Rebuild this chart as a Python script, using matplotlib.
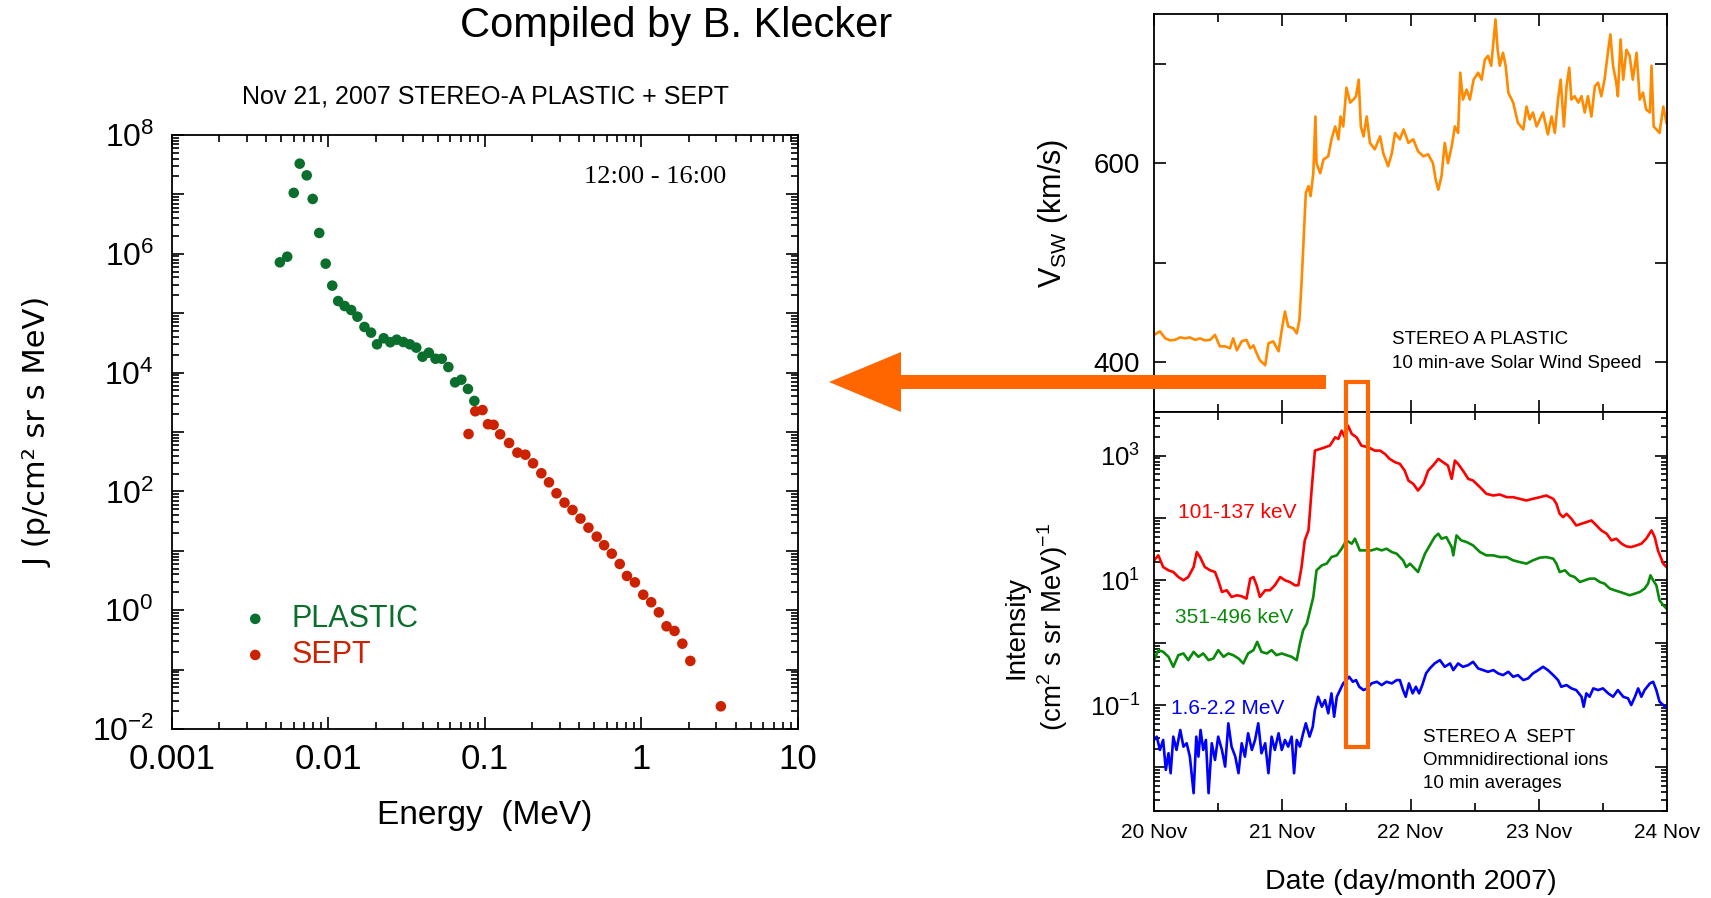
import numpy as np
import matplotlib
matplotlib.use('Agg')
import matplotlib.pyplot as plt
from matplotlib.ticker import FixedLocator, LogLocator, MultipleLocator, FuncFormatter, NullFormatter
from matplotlib.patches import Rectangle, FancyArrow
from matplotlib.transforms import blended_transform_factory

# ---- left panel: energy spectrum 21 Nov 2007, 12:00-16:00 ----
energy_plastic = [0.00489, 0.00545, 0.0060, 0.00655, 0.00726, 0.00793, 0.00873, 0.0096,
                  0.01057, 0.01153, 0.01268, 0.01396, 0.01531, 0.01698, 0.01871, 0.02042,
                  0.02254, 0.02483, 0.02729, 0.03006, 0.03311, 0.03639, 0.03990, 0.04375,
                  0.04831, 0.05297, 0.05834, 0.06442, 0.07063, 0.07780, 0.08551]
flux_plastic = [7.18e5, 8.93e5, 1.06e7, 3.29e7, 2.09e7, 8.38e6, 2.24e6, 6.82e5,
                2.91e5, 1.60e5, 1.32e5, 1.13e5, 8.73e4, 5.86e4, 4.70e4, 2.99e4,
                3.78e4, 3.24e4, 3.58e4, 3.27e4, 2.99e4, 2.63e4, 1.85e4, 2.16e4,
                1.71e4, 1.71e4, 1.24e4, 6.85e3, 7.59e3, 5.30e3, 3.33e3]
energy_sept = [0.0785, 0.0867, 0.0964, 0.1045, 0.1135, 0.1250, 0.1426, 0.1611, 0.1811,
               0.2028, 0.2291, 0.2564, 0.2864, 0.3221, 0.3622, 0.4074, 0.4581, 0.5176,
               0.5768, 0.6457, 0.7261, 0.8072, 0.9078, 1.026, 1.153, 1.291, 1.445, 1.626,
               1.824, 2.051, 3.214]
flux_sept = [925, 2230, 2340, 1350, 1320, 914, 653, 449, 415, 297, 202, 142, 92.9, 64.6,
             48.6, 34.8, 24.5, 17.3, 12.4, 8.95, 6.0, 3.77, 2.94, 1.82, 1.36, 0.92, 0.536,
             0.447, 0.273, 0.140, 0.0241]
x_ticklabels = ['0.001', '0.01', '0.1', '1', '10']

# ---- right panels: hours since 20 Nov 2007 00:00 ----
vsw_hours = [0.0, 1.1, 2.1, 3.0, 3.9, 4.9, 5.8, 6.7, 7.7, 8.6, 9.5, 10.5, 11.4, 12.3, 13.3,
             14.2, 14.8, 15.5, 16.4, 17.3, 18.0, 18.6, 19.2, 19.8, 20.8, 21.4, 22.3, 23.3,
             23.9, 24.5, 25.1, 26.1, 26.7, 27.2, 27.6, 28.1, 28.4, 28.9, 29.3, 29.8, 30.2,
             30.4, 31.1, 31.7, 32.6, 33.2, 33.9, 34.5, 34.9, 35.4, 36.0, 36.7, 37.3, 37.8,
             38.3, 38.7, 39.2, 39.8, 40.4, 41.3, 42.3, 42.9, 43.8, 44.5, 45.1, 46.0, 46.7,
             47.6, 48.5, 49.4, 50.4, 51.3, 52.2, 52.7, 53.2, 53.8, 54.4, 55.0, 55.7, 56.3,
             56.9, 57.3, 57.8, 58.5, 59.1, 59.8, 60.65, 61.3, 61.9, 62.5, 63.1, 63.9, 64.3,
             64.7, 65.3, 65.8, 66.3, 67.2, 68.1, 69.1, 69.7, 70.3, 70.9, 71.6, 72.2, 72.8,
             73.7, 74.4, 75.0, 75.6, 76.1, 76.7, 77.2, 77.7, 78.1, 78.7, 79.4, 80.0, 80.6,
             81.2, 81.85, 82.5, 83.1, 83.7, 84.3, 85.0, 85.4, 85.9, 86.5, 86.8, 87.3, 87.8,
             88.4, 89.0, 89.6, 90.3, 90.9, 91.5, 92.1, 92.8, 93.1, 93.5, 94.0, 94.6, 95.3,
             95.9]
vsw = [427.5, 431, 424, 422, 422.5, 425, 424, 425, 422.5, 424, 422, 422.5, 427.5, 416, 416,
       414, 424, 412, 421, 422.5, 414, 417, 409, 402, 397, 419, 421, 411,
       432.5, 451, 436, 434, 429, 442.5, 479.5, 536.6, 570, 577, 567, 590, 647,
       600, 590, 603.7, 607, 624, 637, 624, 647, 637, 676, 661, 664, 667.4,
       684, 637, 627, 647, 620.5, 614, 627, 610, 597, 610, 630.5, 624, 634,
       620.5, 624, 612, 607, 609, 600, 583.6, 573.5, 587, 620.5, 600, 617, 637,
       630.5, 691, 664, 674, 664, 684, 691, 684, 704, 708, 698, 744.6, 714,
       698, 711, 698, 671, 661, 640.6, 634, 657, 644, 651, 637, 644, 651,
       629, 647, 630.5, 664, 684, 637, 677.5, 696, 664, 667.4, 661, 667.4, 651,
       667.4, 647, 677.5, 681, 667.4, 684, 714, 729.5, 698, 681, 667.4, 724.5, 684,
       714, 708, 684, 711, 664, 671, 654, 651, 698, 637, 634, 630.5, 657,
       640.6]

low_hours = [0.0, 0.8, 1.7, 2.7, 3.6, 4.55, 5.5, 6.4, 7.4, 8.0, 8.6, 9.5, 10.5, 11.4, 12.0,
             12.7, 13.6, 14.5, 15.5, 16.4, 17.3, 18.0, 18.6, 19.2, 19.8, 20.8, 21.7, 22.6,
             23.6, 24.5, 25.4, 26.4, 27.0, 27.6, 28.2, 28.9, 29.5, 30.1, 31.1, 32.0, 32.9,
             33.9, 34.5, 35.1, 35.7, 36.3, 37.0, 37.9, 38.8, 40.1, 41.3, 42.3, 43.2, 44.1,
             45.1, 46.0, 46.9, 47.6, 48.5, 49.4, 50.4, 51.3, 52.2, 53.2, 54.1, 55.0, 55.7,
             56.3, 56.9, 57.8, 58.8, 59.7, 61.0, 62.2, 63.5, 64.7, 66.0, 67.2, 68.4, 69.7,
             70.9, 72.2, 73.4, 74.7, 75.3, 75.9, 76.55, 77.2, 78.1, 79.0, 80.0, 80.9, 81.85,
             82.8, 83.7, 84.7, 85.6, 86.5, 87.5, 88.4, 89.3, 90.3, 91.2, 92.1, 93.1, 93.7,
             94.3, 95.3, 95.9]
log_low = [1.32, 1.40, 1.213, 1.16, 1.133, 1.053, 1.0, 1.053, 1.213, 1.453, 1.373, 1.213, 1.16,
           1.133, 1.0, 0.813, 0.84, 0.733, 0.76, 0.744, 0.707, 1.027, 1.053, 0.92, 0.733, 0.84,
           0.84, 0.92, 1.053, 1.0, 0.973, 0.92, 0.92, 1.213, 1.64, 1.8, 2.467, 3.08, 3.107,
           3.133, 3.16, 3.293, 3.267, 3.4, 3.293, 3.48, 3.347, 3.293, 3.16, 3.133, 3.08, 3.08,
           3.027, 2.947, 2.893, 2.867, 2.76, 2.6, 2.547, 2.44, 2.547, 2.76, 2.84, 2.947, 2.893,
           2.84, 2.627, 2.92, 2.867, 2.76, 2.627, 2.6, 2.493, 2.387, 2.36, 2.376, 2.333, 2.333,
           2.307, 2.28, 2.307, 2.333, 2.36, 2.307, 2.227, 2.067, 2.013, 2.067, 1.987, 1.88,
           1.907, 1.933, 1.96, 1.88, 1.8, 1.747, 1.64, 1.667, 1.587, 1.544, 1.533, 1.56, 1.587,
           1.667, 1.8, 1.693, 1.48, 1.267, 1.213]

mid_hours = [0.0, 0.8, 1.7, 2.7, 3.6, 4.55, 5.5, 6.4, 7.4, 8.3, 9.2, 10.2, 11.1, 12.0, 13.0,
             13.9, 14.8, 15.8, 16.7, 17.6, 18.6, 19.3, 20.1, 21.1, 22.0, 22.9, 23.9, 24.8,
             25.75, 26.7, 27.3, 27.9, 28.6, 29.2, 29.8, 30.4, 31.4, 32.3, 33.2, 34.2, 35.1,
             36.0, 37.0, 37.6, 38.5, 39.8, 40.7, 41.7, 42.6, 43.5, 44.5, 45.4, 46.6, 47.2,
             47.9, 48.8, 49.4, 50.1, 50.7, 51.6, 52.5, 53.2, 53.8, 54.7, 55.7, 56.0, 56.6,
             57.5, 58.5, 59.7, 61.0, 62.2, 63.5, 64.7, 66.0, 67.2, 68.4, 69.7, 70.9, 72.2,
             73.4, 74.7, 75.3, 75.9, 76.9, 77.8, 78.7, 79.7, 80.6, 81.5, 82.5, 83.4, 84.3,
             85.3, 86.2, 87.2, 88.1, 89.0, 90.0, 90.9, 91.8, 92.45, 92.9, 93.4, 94.0, 94.6,
             95.3, 95.9]
log_mid = [-0.28, -0.12, -0.147, -0.227, -0.387, -0.2, -0.173, -0.28, -0.147, -0.227, -0.173,
           -0.28, -0.253, -0.12, -0.227, -0.173, -0.2, -0.253, -0.333, -0.173, -0.12, 0.013,
           -0.147, -0.173, -0.12, -0.2, -0.173, -0.2, -0.227, -0.28, -0.013, 0.2, 0.307, 0.52,
           0.733, 1.16, 1.24, 1.267, 1.373, 1.4, 1.507, 1.64, 1.587, 1.667, 1.48, 1.48, 1.48,
           1.507, 1.48, 1.507, 1.453, 1.427, 1.32, 1.213, 1.267, 1.187, 1.133, 1.293, 1.427,
           1.56, 1.693, 1.747, 1.667, 1.693, 1.533, 1.4, 1.72, 1.64, 1.613, 1.56, 1.453, 1.4,
           1.4, 1.373, 1.373, 1.32, 1.293, 1.267, 1.32, 1.363, 1.373, 1.347, 1.267, 1.133,
           1.16, 1.08, 1.053, 0.973, 1.0, 1.027, 1.027, 0.973, 0.947, 0.867, 0.84, 0.813,
           0.787, 0.76, 0.787, 0.813, 0.867, 0.947, 1.08, 1.0, 0.92, 0.68, 0.6, 0.547]

high_hours = [0.0, 0.5, 1.1, 1.7, 2.2, 2.7, 3.1, 3.6, 4.2, 4.9, 5.5, 6.1, 6.7, 7.4, 7.9, 8.3,
              8.7, 9.2, 9.7, 10.2, 10.8, 11.4, 12.0, 12.7, 13.3, 13.9, 14.5, 15.2, 15.8, 16.4,
              17.0, 17.6, 18.3, 18.9, 19.5, 20.1, 20.8, 21.4, 22.0, 22.6, 23.3, 23.9, 24.5,
              25.1, 25.75, 26.2, 26.7, 27.3, 27.9, 28.4, 29.1, 29.7, 30.1, 30.7, 31.4, 32.0,
              32.6, 33.2, 33.7, 34.2, 34.8, 35.4, 36.0, 36.5, 37.2, 37.8, 38.4, 39.2, 39.9,
              40.7, 41.7, 42.6, 43.5, 44.5, 45.4, 46.0, 46.6, 47.1, 47.7, 48.4, 49.0, 49.6,
              50.2, 50.9, 51.6, 52.5, 53.5, 54.4, 55.4, 56.0, 56.9, 57.8, 58.8, 59.7, 60.65,
              61.6, 62.5, 63.5, 64.4, 65.3, 66.3, 67.2, 68.1, 69.1, 70.0, 70.9, 71.9, 72.8,
              73.7, 74.7, 75.6, 76.2, 77.2, 78.1, 79.0, 80.0, 80.4, 80.9, 81.5, 82.2, 83.1,
              84.0, 85.0, 85.9, 86.8, 87.8, 88.7, 89.3, 90.0, 90.6, 91.2, 91.8, 92.8, 93.4,
              94.0, 94.6, 95.3, 95.9]
log_high = [-1.56, -1.507, -1.72, -1.56, -2.04, -1.773, -2.093, -1.507, -1.72, -1.4, -1.667,
            -1.613, -1.827, -2.413, -1.507, -1.827, -1.4, -1.72, -1.56, -2.413, -1.613, -1.88,
            -1.507, -1.72, -1.987, -1.293, -1.667, -1.827, -2.093, -1.613, -1.827, -1.453,
            -1.72, -1.56, -1.293, -1.773, -1.613, -2.093, -1.507, -1.72, -1.453, -1.72, -1.56,
            -1.667, -1.507, -2.093, -1.56, -1.667, -1.453, -1.293, -1.507, -1.347, -1.08,
            -0.867, -1.027, -0.92, -1.133, -0.813, -1.187, -0.867, -0.76, -0.653, -0.6, -0.547,
            -0.627, -0.6, -0.707, -0.76, -0.733, -0.653, -0.627, -0.68, -0.627, -0.653, -0.6,
            -0.6, -0.76, -0.867, -0.653, -0.813, -0.707, -0.813, -0.68, -0.493, -0.413, -0.333,
            -0.28, -0.387, -0.333, -0.44, -0.333, -0.387, -0.36, -0.307, -0.413, -0.44, -0.467,
            -0.44, -0.493, -0.52, -0.467, -0.547, -0.52, -0.6, -0.573, -0.493, -0.44, -0.387,
            -0.44, -0.52, -0.6, -0.707, -0.68, -0.733, -0.76, -0.867, -1.027, -0.813, -0.867,
            -0.733, -0.76, -0.733, -0.813, -0.867, -0.76, -0.867, -0.893, -1.0, -0.867, -0.733,
            -0.867, -0.76, -0.653, -0.627, -0.76, -0.947, -1.0, -1.053]

channel_names = ['101-137 keV', '351-496 keV', '1.6-2.2 MeV']
day_names = ['20 Nov', '21 Nov', '22 Nov', '23 Nov', '24 Nov']
window_start, window_end = 36, 40   # 21 Nov 12:00 - 16:00

GREEN = '#0a6e2c'
DKRED = '#cc2200'
ORANGE_SW = '#ff8a00'
ORANGE_MARK = '#ff6600'
ARIAL = ['Liberation Sans', 'DejaVu Sans']

plt.rcParams['font.family'] = ARIAL

fig = plt.figure(figsize=(17.11, 8.98), dpi=100)

# ================= left: spectrum =================
ax = fig.add_axes([0.1005, 0.1882, 0.3659, 0.6615])
ax.set_xscale('log')
ax.set_yscale('log')
ax.scatter(energy_plastic, flux_plastic, s=58, color=GREEN, edgecolors='none', label='PLASTIC', zorder=3)
ax.scatter(energy_sept, flux_sept, s=58, color=DKRED, edgecolors='none', label='SEPT', zorder=3)
ax.set_xlim(1e-3, 10)
ax.set_ylim(1e-2, 1e8)


def left_xfmt(v, pos):
    i = int(round(np.log10(v))) + 3
    return x_ticklabels[i] if 0 <= i < len(x_ticklabels) else ''


def log_fmt(parity):
    def f(v, pos):
        e = int(round(np.log10(v)))
        return r'$\mathregular{10^{%d}}$' % e if e % 2 == parity else ''
    return FuncFormatter(f)


def day_fmt(v, pos):
    i = int(round(v / 24))
    return day_names[i] if 0 <= i < len(day_names) else ''


ax.xaxis.set_major_locator(FixedLocator([1e-3, 1e-2, 1e-1, 1, 10]))
ax.xaxis.set_major_formatter(FuncFormatter(left_xfmt))
ax.xaxis.set_minor_locator(LogLocator(base=10, subs=np.arange(2, 10), numticks=30))
ax.xaxis.set_minor_formatter(NullFormatter())
ax.yaxis.set_major_locator(FixedLocator(10.0 ** np.arange(-2, 9)))
ax.yaxis.set_major_formatter(log_fmt(0))
ax.yaxis.set_minor_locator(LogLocator(base=10, subs=np.arange(2, 10), numticks=30))
ax.yaxis.set_minor_formatter(NullFormatter())
ax.tick_params(which='both', direction='in', top=True, right=True, width=1.2)
ax.tick_params(which='major', length=8.5)
ax.tick_params(which='minor', length=5)
ax.tick_params(axis='x', which='major', labelsize=25, pad=10)
ax.tick_params(axis='y', which='major', labelsize=23, pad=13)
for s in ax.spines.values():
    s.set_linewidth(1.3)

ax.set_xlabel('Energy  (MeV)', fontsize=24, va='center')
ax.xaxis.set_label_coords(0.5, -0.146)
ax.set_ylabel('J (p/cm² sr s MeV)', fontsize=22, family=['DejaVu Sans'], va='center')
ax.yaxis.set_label_coords(-0.214, 0.5)
ax.text(0.772, 0.929, '12:00 - 16:00', transform=ax.transAxes, ha='center', va='center',
        fontsize=19, family=['Liberation Serif', 'DejaVu Serif'])

leg = ax.legend(loc='center left', bbox_to_anchor=(0.094, 0.155), frameon=False,
                handlelength=0.8, handletextpad=0.8, labelspacing=0.2, borderaxespad=0,
                prop={'size': 22}, scatterpoints=1)
for t, c in zip(leg.get_texts(), [GREEN, DKRED]):
    t.set_color(c)

fig.text(0.2835, 0.893, 'Nov 21, 2007 STEREO-A PLASTIC + SEPT', ha='center', va='center', fontsize=18)
fig.text(0.395, 0.971, 'Compiled by B. Klecker', ha='center', va='center', fontsize=30)

# ================= right: solar wind and SEPT =================
ax1 = fig.add_axes([0.6745, 0.5412, 0.2998, 0.4432])
ax2 = fig.add_axes([0.6745, 0.0969, 0.2998, 0.4443], sharex=ax1)

ax1.plot(vsw_hours, vsw, color=ORANGE_SW, lw=1.9)
ax1.set_ylim(350, 750)
ax1.yaxis.set_major_locator(FixedLocator([400, 600]))
ax1.yaxis.set_minor_locator(FixedLocator([500, 700]))
ax1.set_ylabel(r'V$_{\mathregular{SW}}$ (km/s)', fontsize=22, va='center')
ax1.yaxis.set_label_coords(-0.197, 0.50)
ax1.text(0.464, 0.181, 'STEREO A PLASTIC', transform=ax1.transAxes, fontsize=13.5, va='center')
ax1.text(0.464, 0.123, '10 min-ave Solar Wind Speed', transform=ax1.transAxes, fontsize=13.5, va='center')

chan_colors = ['#ff0000', '#0a8a0a', '#0000ff']
ax2.plot(low_hours, 10.0 ** np.array(log_low), color=chan_colors[0], lw=1.9)
ax2.plot(mid_hours, 10.0 ** np.array(log_mid), color=chan_colors[1], lw=1.9)
ax2.plot(high_hours, 10.0 ** np.array(log_high), color=chan_colors[2], lw=1.9)
ax2.set_yscale('log')
ax2.set_ylim(2e-3, 5e3)
ax2.yaxis.set_major_locator(FixedLocator(10.0 ** np.arange(-2, 4)))
ax2.yaxis.set_major_formatter(log_fmt(1))
ax2.yaxis.set_minor_locator(LogLocator(base=10, subs=np.arange(2, 10), numticks=30))
ax2.yaxis.set_minor_formatter(NullFormatter())
ax2.set_ylabel('Intensity\n(cm$^{\\mathregular{2}}$ s sr MeV)$^{\\mathregular{-1}}$', fontsize=20,
               va='center', linespacing=1.2)
ax2.yaxis.set_label_coords(-0.229, 0.46)
ax2.set_xlabel('Date (day/month 2007)', fontsize=20.5, va='center')
ax2.xaxis.set_label_coords(0.5, -0.178)

label_pos = [(0.163, 0.749), (0.157, 0.484), (0.144, 0.256)]
for name, col, (lx, ly) in zip(channel_names, chan_colors, label_pos):
    ax2.text(lx, ly, name, color=col, transform=ax2.transAxes, fontsize=15, ha='center', va='center')
for i, line in enumerate(['STEREO A  SEPT', 'Ommnidirectional ions', '10 min averages']):
    ax2.text(0.524, 0.185 - 0.0585 * i, line, transform=ax2.transAxes, fontsize=13.5, va='center')

ax2.set_xlim(0, 96)
ax2.xaxis.set_major_locator(MultipleLocator(24))
ax2.xaxis.set_minor_locator(MultipleLocator(12))
ax2.xaxis.set_major_formatter(FuncFormatter(day_fmt))

for a in (ax1, ax2):
    a.tick_params(which='both', direction='in', top=True, right=True, width=1.2)
    a.tick_params(which='major', length=8.5)
    a.tick_params(which='minor', length=6)
    for s in a.spines.values():
        s.set_linewidth(1.3)
ax1.tick_params(axis='y', which='minor', length=8.5)
ax1.tick_params(axis='x', labelbottom=False)
ax1.tick_params(axis='y', labelsize=20, pad=10)
ax2.tick_params(axis='y', which='major', labelsize=18.5, pad=10)
ax2.tick_params(axis='y', which='minor', length=4.5)
ax2.tick_params(axis='x', which='major', labelsize=15, pad=9)

# time window of the spectrum, spanning both panels
blend = blended_transform_factory(ax2.transData, ax2.transAxes)
ax2.add_patch(Rectangle((window_start, 0.16), window_end - window_start, 0.915, transform=blend,
                        fill=False, ec=ORANGE_MARK, lw=3, clip_on=False, zorder=5))

fig.add_artist(FancyArrow(13.26, 5.16, -(13.26 - 8.29), 0, width=0.14, head_width=0.60,
                          head_length=0.72, length_includes_head=True,
                          transform=fig.dpi_scale_trans, color=ORANGE_MARK, lw=0))

fig.savefig('out.png', dpi=100)
